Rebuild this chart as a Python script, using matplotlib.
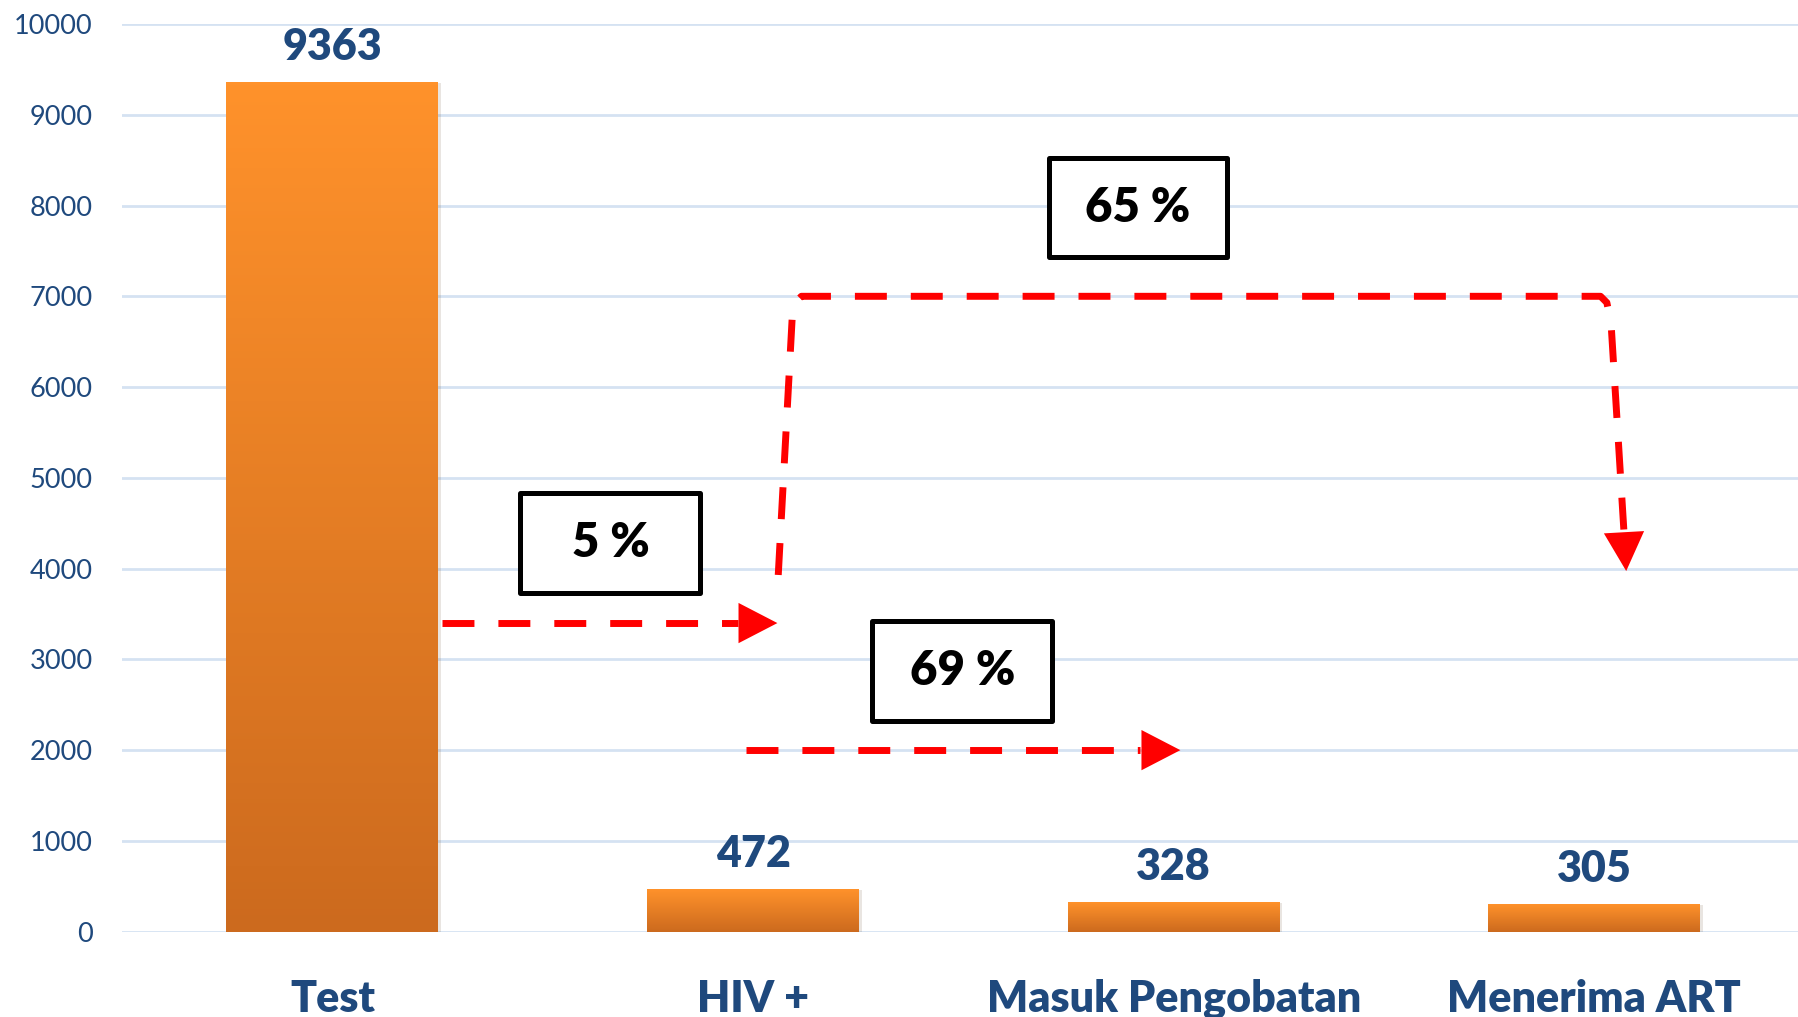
import numpy as np
import matplotlib.pyplot as plt
from matplotlib.patches import Rectangle, FancyArrowPatch
from matplotlib.colors import LinearSegmentedColormap
import matplotlib.patheffects as pe

plt.rcParams['font.family'] = ['Lato', 'DejaVu Sans']

stages = ["Test", "HIV +", "Masuk Pengobatan", "Menerima ART"]
counts = [9363, 472, 328, 305]
yticks = list(range(0, 10001, 1000))

# step percentages between stages
step_labels = ["5 %", "69 %", "65 %"]

blue = "#1F497D"
red = "#FF0000"
grad = LinearSegmentedColormap.from_list("bar", ["#CC6A1E", "#FF922B"])

fig = plt.figure(figsize=(17.98, 10.17), dpi=100)
ax = fig.add_axes([0.0679, 0.0839, 0.932, 0.8925])

x = np.arange(len(stages))
bars = ax.bar(x, counts, width=0.504, color="#FF922B", zorder=2)
for b in bars:
    b.set_path_effects([pe.SimplePatchShadow(offset=(2, -1), alpha=0.12), pe.Normal()])
    x0, y0 = b.get_x(), b.get_y()
    img = ax.imshow(np.linspace(0, 1, 256).reshape(-1, 1), cmap=grad, aspect="auto",
                    extent=[x0, x0 + b.get_width(), y0, y0 + b.get_height()],
                    origin="lower", zorder=3)
    img.set_clip_path(b)

for xi, c in zip(x, counts):
    ax.annotate(str(c), (xi, c), xytext=(0, 16), textcoords="offset points",
                ha="center", va="baseline", fontsize=31, fontweight="heavy", color=blue)

ax.set_xlim(-0.5, 3.484)
ax.set_ylim(0, 10000)
ax.set_yticks(yticks)
ax.set_yticklabels([str(t) for t in yticks], fontsize=19.5, color=blue)
ax.set_xticks(x)
ax.set_xticklabels(stages, fontsize=31, fontweight="heavy", color=blue)
ax.tick_params(axis="y", length=0, pad=21)
ax.tick_params(axis="x", length=0, pad=34)
for s in ax.spines.values():
    s.set_visible(False)
ax.grid(axis="y", color="#D5E2F2", linewidth=2, zorder=0)
ax.set_axisbelow(True)

dash = (0, (4.6, 3.45))


def arrow_line(xs, ys):
    ax.plot(xs[:-1], ys[:-1], color=red, linewidth=5, linestyle=dash,
            solid_capstyle="butt", dash_capstyle="butt", zorder=4)
    ax.add_patch(FancyArrowPatch((xs[-2], ys[-2]), (xs[-1], ys[-1]),
                                 arrowstyle="-|>,head_length=28,head_width=14.5",
                                 color=red, linewidth=0, shrinkA=0, shrinkB=0,
                                 mutation_scale=1, zorder=5))


# Test -> HIV +
arrow_line([0.261, 0.965, 1.058], [3400, 3400, 3400])
# HIV + -> Masuk Pengobatan
arrow_line([0.984, 1.920, 2.016], [2000, 2000, 2000])
# HIV + -> Menerima ART
arrow_line([1.060, 1.093, 1.100, 1.115, 3.015, 3.030, 3.040, 3.071, 3.076],
           [3930, 6750, 6930, 7000, 7000, 6930, 6700, 4380, 3973])


def box(label, x0, x1, y0, y1):
    ax.add_patch(Rectangle((x0, y0), x1 - x0, y1 - y0, facecolor="white",
                           edgecolor="black", linewidth=3.6, joinstyle="round", zorder=6))
    ax.text((x0 + x1) / 2, (y0 + y1) / 2, label, ha="center", va="center",
            fontsize=34, fontweight="heavy", color="black", zorder=7)


box(step_labels[0], 0.447, 0.875, 3731, 4833)
box(step_labels[1], 1.284, 1.711, 2322, 3423)
box(step_labels[2], 1.704, 2.127, 7433, 8523)

plt.savefig("out.png", dpi=100)
